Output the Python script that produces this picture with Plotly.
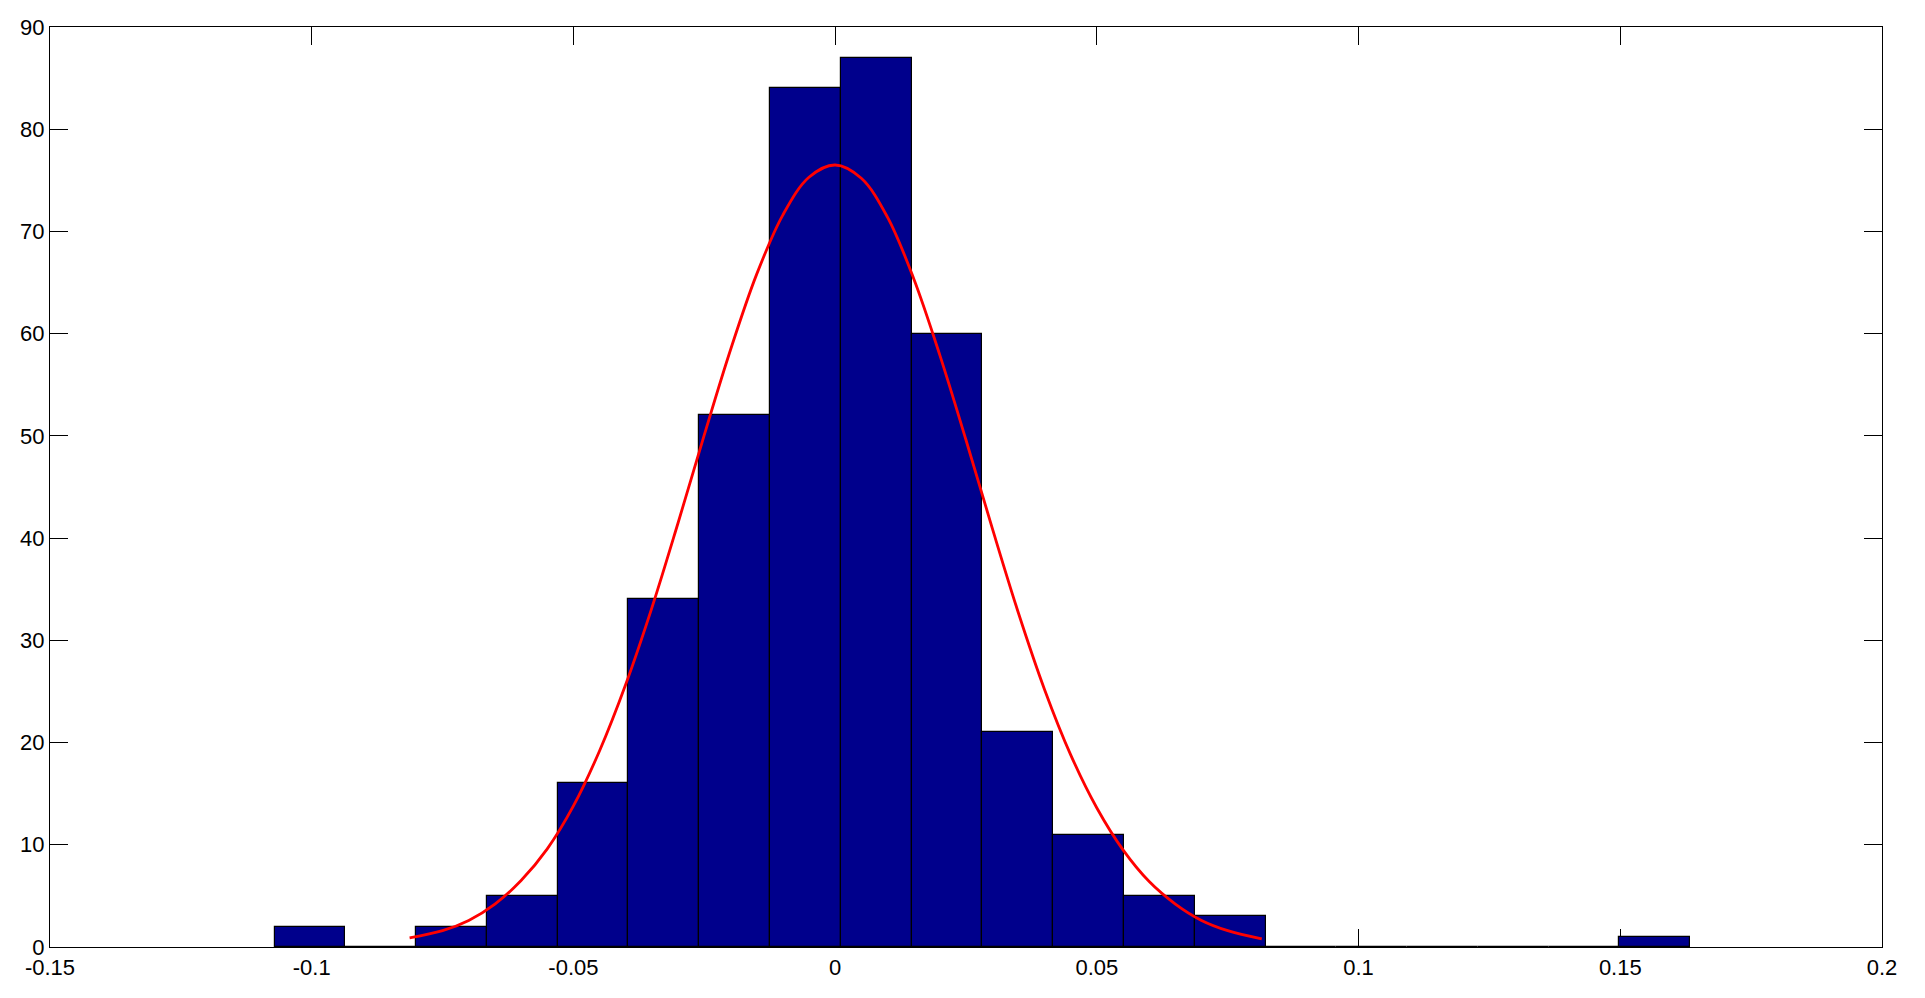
import plotly.graph_objects as go

# histogram: 20 equal bins, left edge of the first bin and bin width
bin_start = -0.1071
bin_width = 0.013523
counts = [2, 0, 2, 5, 16, 34, 52, 84, 87, 60, 21, 11, 5, 3, 0, 0, 0, 0, 0, 1]

# red fitted curve
curve_x = [-0.0813, -0.075, -0.070, -0.065, -0.060, -0.055, -0.050, -0.045, -0.040,
           -0.035, -0.030, -0.025, -0.020, -0.015, -0.010, -0.005, 0.000, 0.005,
           0.010, 0.015, 0.020, 0.025, 0.030, 0.035, 0.040, 0.045, 0.050, 0.055,
           0.060, 0.065, 0.070, 0.075, 0.0815]
curve_y = [0.9, 1.6, 2.6, 4.2, 6.5, 9.6, 13.8, 19.2, 25.7,
           33.2, 41.5, 50.1, 58.4, 65.8, 71.6, 75.3, 76.5, 75.2,
           71.4, 65.4, 57.9, 49.6, 41.0, 32.7, 25.2, 18.8, 13.6, 9.5,
           6.4, 4.2, 2.6, 1.6, 0.8]

x_ticks = [-0.15, -0.1, -0.05, 0, 0.05, 0.1, 0.15, 0.2]
x_labels = ['-0.15', '-0.1', '-0.05', '0', '0.05', '0.1', '0.15', '0.2']
y_ticks = [0, 10, 20, 30, 40, 50, 60, 70, 80, 90]

centers = [bin_start + bin_width * (i + 0.5) for i in range(len(counts))]

fig = go.Figure()
fig.add_trace(go.Bar(x=centers, y=counts, width=bin_width,
                     marker=dict(color='rgb(0,0,140)', line=dict(color='black', width=1.2))))
fig.add_trace(go.Scatter(x=curve_x, y=curve_y, mode='lines', line_shape='spline',
                         line=dict(color='rgb(255,0,0)', width=2.8)))

axis_style = dict(showgrid=False, zeroline=False, showline=True, linecolor='black',
                  linewidth=1.3, mirror='ticks', ticks='inside', ticklen=18,
                  tickcolor='black', tickwidth=1.3, automargin=False, layer='below traces',
                  tickfont=dict(family='Liberation Sans', size=22, color='black'))

fig.update_xaxes(range=[-0.15, 0.2], tickvals=x_ticks, ticktext=x_labels, **axis_style)
fig.update_yaxes(range=[0, 90], tickvals=y_ticks, **axis_style)

# the page body adds 8px around the figure
fig.update_layout(width=1909, height=982, showlegend=False, bargap=0,
                  plot_bgcolor='white', paper_bgcolor='white',
                  margin=dict(l=42, r=35, t=19, b=43))

fig.write_html("out.html")
